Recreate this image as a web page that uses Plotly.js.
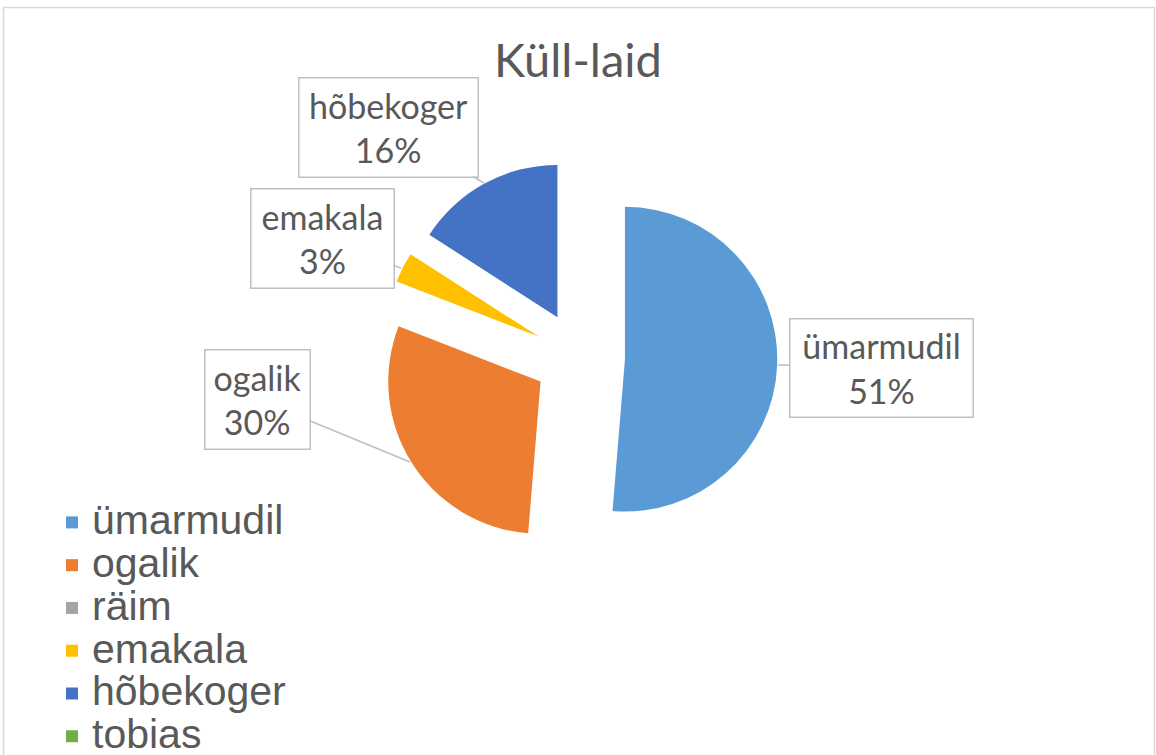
<!DOCTYPE html>
<html>
<head>
<meta charset="utf-8">
<script src="https://cdn.plot.ly/plotly-3.0.1.min.js"></script>
<style>
html,body{margin:0;padding:0;background:#fff;}
#chart{width:1156px;height:755px;}
</style>
</head>
<body>
<div id="chart"></div>
<script>
// Data
const titleText = "Küll-laid";
const categories = ["ümarmudil", "ogalik", "räim", "emakala", "hõbekoger", "tobias"];
const values = [51.3, 29.6, 0, 3.2, 15.9, 0];
const colors = ["#5B9BD5", "#ED7D31", "#A5A5A5", "#FFC000", "#4472C4", "#70AD47"];

const total = values.reduce((a, b) => a + b, 0);
const pctText = values.map(v => Math.round(v / total * 100) + "%");

const W = 1156, H = 755;
const px = x => x / W;
const py = y => 1 - y / H;

// Callout placement (label box centre, anchor point on slice, box size) for non-zero slices
const callouts = [
  {i: 0, bx: 881, by: 367.5, tx: 778, ty: 365, w: 182, h: 97},
  {i: 1, bx: 257, by: 399, tx: 410, ty: 462, w: 104, h: 98},
  {i: 3, bx: 322, by: 239, tx: 401, ty: 268, w: 142, h: 98},
  {i: 4, bx: 388, by: 127, tx: 484, ty: 183, w: 178, h: 98}
];

const legendLabels = categories.map(c => '<span style="font-size:41px">' + c + '</span>');

const trace = {
  type: "pie",
  labels: legendLabels,
  values: values,
  sort: false,
  direction: "clockwise",
  rotation: 0,
  pull: values.map(() => 0.3),
  marker: {colors: colors, line: {width: 0}},
  textinfo: "none",
  hovertext: categories.map((c, k) => c + ": " + pctText[k]),
  hoverinfo: "text",
  domain: {x: [px(381.3), px(777.3)], y: [py(555.3), py(159.3)]},
  showlegend: true
};

const annotations = callouts.map(c => ({
  xref: "paper", yref: "paper",
  x: px(c.tx), y: py(c.ty),
  ax: c.bx - c.tx, ay: c.by - c.ty,
  axref: "pixel", ayref: "pixel",
  text: categories[c.i] + "<br>" + pctText[c.i],
  showarrow: true, arrowhead: 0, arrowwidth: 1.5, arrowcolor: "#BFBFBF",
  standoff: 0, startstandoff: 0,
  width: c.w, height: c.h,
  bgcolor: "#FFFFFF", bordercolor: "#BFBFBF", borderwidth: 1.5, borderpad: 0,
  font: {family: "Lato, sans-serif", size: 34, color: "#595959"},
  align: "center", valign: "middle"
}));

const layout = {
  width: W, height: H,
  margin: {l: 0, r: 0, t: 0, b: 0, autoexpand: false},
  paper_bgcolor: "#FFFFFF",
  title: {
    text: titleText,
    font: {family: "Lato, sans-serif", size: 47, color: "#595959"},
    xref: "container", yref: "container",
    x: px(578), y: py(61), xanchor: "center", yanchor: "middle",
    automargin: false
  },
  showlegend: true,
  legend: {
    xref: "container", yref: "container",
    x: px(52), y: py(496), xanchor: "left", yanchor: "top",
    orientation: "v",
    font: {family: "Liberation Sans, Arial, sans-serif", size: 30.6, color: "#595959"},
    bgcolor: "rgba(0,0,0,0)", borderwidth: 0,
    traceorder: "normal"
  },
  annotations: annotations,
  shapes: [{
    type: "rect", xref: "paper", yref: "paper",
    x0: px(3.5), x1: px(1154.5), y0: py(800), y1: py(7.5),
    line: {color: "#D9D9D9", width: 1.5}, fillcolor: "rgba(0,0,0,0)"
  }]
};

Plotly.newPlot("chart", [trace], layout, {displayModeBar: false});
</script>
</body>
</html>
